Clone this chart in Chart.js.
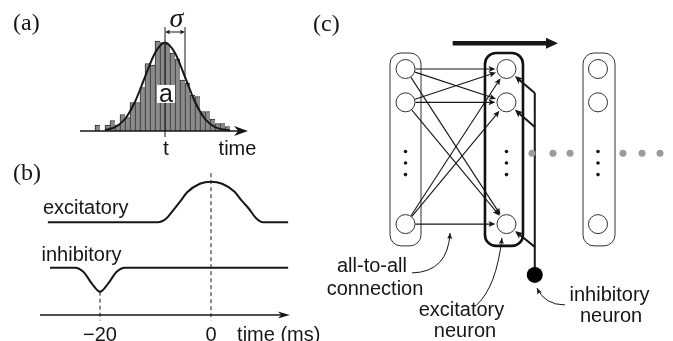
<!DOCTYPE html>
<html>
<head>
<meta charset="utf-8">
<script src="https://cdn.jsdelivr.net/npm/chart.js@4.4.1/dist/chart.umd.min.js"></script>
<style>
  html, body { margin: 0; padding: 0; background: #fff; }
  #wrap { position: relative; width: 673px; height: 341px; overflow: hidden; }
  canvas { position: absolute; }
</style>
</head>
<body>
<div id="wrap">
  <canvas id="ca" width="290" height="160" style="left:0;top:0"></canvas>
  <canvas id="cb" width="325" height="181" style="left:0;top:160px"></canvas>
  <canvas id="cc" width="373" height="341" style="left:300px;top:0"></canvas>
</div>
<script>
// (a) spike times of one group around its mean t (bin units), counts per bin
const binCenters = [-13.5, -12.5, -11.5, -10.5, -9.5, -8.5, -7.5, -6.5, -5.5, -4.5, -3.5, -2.5, -1.5, -0.5,
                    0.5, 1.5, 2.5, 3.5, 4.5, 5.5, 6.5, 7.5, 8.5, 9.5, 10.5, 11.5, 12.5];
const binCounts = [4, 0, 4, 7, 4, 11, 9, 19, 19, 29, 45, 44, 60, 59,
                   58, 52, 48, 34, 32, 24, 23, 13, 13, 8, 5, 5, 3];
const fitX = [-12, -10, -8, -6, -4, -2, 0, 2, 4, 6, 8, 10, 13];
const fitY = [0.7, 2.6, 8, 19.5, 36, 52, 59, 52, 36, 19.5, 8, 2.6, 0.4];
const sigmaWidth = 4;

// (b) postsynaptic kernels, time in ms
const excTime = [-29.4, -9.6, -8, -6.8, -5.5, -4.3, -2, 0, 2, 4.2, 5.5, 6.8, 8, 9.4, 13.9];
const excValue = [0, 0, 0.1, 0.3, 0.52, 0.74, 0.95, 1, 0.95, 0.76, 0.54, 0.34, 0.12, 0, 0];
const inhTime = [-29, -24.5, -23, -21.5, -20, -18.5, -17, -15.5, 13.9];
const inhValue = [0, 0, -0.17, -0.65, -1, -0.65, -0.17, 0, 0];
const timeTicks = [-20, 0];
const timeTickLabels = ['\u221220', '0'];

// (c) network: layers (columns) and neuron rows
const layerX = [0, 1, 1.906];
const neuronRows = [0, 1.01, 4.7];
const ellipsisRows = [2.5, 2.85, 3.2];
const boxX = [0, 0.975, 1.916];
const links = [[0, 0], [0, 1], [0, 2], [1, 0], [1, 1], [1, 2], [2, 0], [2, 1], [2, 2]];
const inhibX = 1.28;
const inhibRow = 6.24;
const branchRows = [0.727, 1.76, 5.39];
const grayDotsX = [1.252, 1.46, 1.629, 2.153, 2.342, 2.52];
const grayDotsRow = 2.55;

const SANS = '"Liberation Sans", Arial, sans-serif';
const SERIF = '"Liberation Serif", "Times New Roman", serif';
const INK = '#161616';

// value v0 sits at pixel p0, k pixels per unit; down = values grow downwards / rightwards
function fitRange(v0, p0, k, len, down) {
  if (down) {
    const min = v0 - p0 / k;
    return { min, max: min + len / k };
  }
  const max = v0 + p0 / k;
  return { min: max - len / k, max };
}

function head(ctx, x0, y0, x1, y1, len, half, notch) {
  const a = Math.atan2(y1 - y0, x1 - x0);
  const c = Math.cos(a), s = Math.sin(a);
  const bx = x1 - c * len, by = y1 - s * len;
  ctx.beginPath();
  ctx.moveTo(x1, y1);
  ctx.lineTo(bx - s * half, by + c * half);
  ctx.lineTo(x1 - c * len * (1 - notch), y1 - s * len * (1 - notch));
  ctx.lineTo(bx + s * half, by - c * half);
  ctx.closePath();
  ctx.fill();
}

function arrow(ctx, x0, y0, x1, y1, len, half, notch) {
  const a = Math.atan2(y1 - y0, x1 - x0);
  const back = len * (1 - notch) * 0.8;
  ctx.beginPath();
  ctx.moveTo(x0, y0);
  ctx.lineTo(x1 - Math.cos(a) * back, y1 - Math.sin(a) * back);
  ctx.stroke();
  head(ctx, x0, y0, x1, y1, len, half, notch);
}

function seg(ctx, x0, y0, x1, y1) {
  ctx.beginPath();
  ctx.moveTo(x0, y0);
  ctx.lineTo(x1, y1);
  ctx.stroke();
}

function text(ctx, str, x, y, font, align) {
  ctx.font = font;
  ctx.textAlign = align || 'center';
  ctx.textBaseline = 'alphabetic';
  ctx.fillText(str, x, y);
}

const baseOptions = {
  responsive: false,
  animation: false,
  events: [],
  layout: { padding: 0, autoPadding: false },
  plugins: { legend: { display: false }, tooltip: { enabled: false } }
};

// ---------- (a) ----------
const rAX = fitRange(0, 165, 5, 290, true);
const rAY = fitRange(0, 131, 1.5, 160, false);

const panelA = {
  id: 'panelA',
  afterDatasetsDraw(chart) {
    const { ctx, scales: { x, y } } = chart;
    const X = v => x.getPixelForValue(v), Y = v => y.getPixelForValue(v);
    ctx.save();
    ctx.strokeStyle = INK;
    ctx.fillStyle = INK;
    ctx.lineWidth = 1.6;
    arrow(ctx, X(-17), Y(0), X(16.6), Y(0), 14, 5, 0.3);

    ctx.lineWidth = 1;
    seg(ctx, X(0), Y(69.3), X(0), Y(-4));
    seg(ctx, X(sigmaWidth), Y(69.3), X(sigmaWidth), Y(35.5));
    const ys = Y(66);
    seg(ctx, X(0) + 2, ys, X(sigmaWidth) - 2, ys);
    head(ctx, X(sigmaWidth), ys, X(0), ys, 5, 2.2, 0.2);
    head(ctx, X(0), ys, X(sigmaWidth), ys, 5, 2.2, 0.2);

    ctx.fillStyle = '#fff';
    ctx.fillRect(X(-1.6), Y(30.7), X(2) - X(-1.6), Y(18.7) - Y(30.7));
    ctx.fillStyle = INK;
    text(ctx, 'a', X(0.2), Y(19.6), '25px ' + SANS);

    text(ctx, '\u03c3', X(2.3), Y(69.5), 'italic 28px ' + SERIF);
    text(ctx, 't', X(0.2), Y(-16), '21px ' + SANS);
    text(ctx, 'time', X(14.5), Y(-16), '20px ' + SANS);
    text(ctx, '(a)', X(-30.4), Y(67.3), '24px ' + SERIF, 'left');
    ctx.restore();
  }
};

new Chart(document.getElementById('ca'), {
  type: 'bar',
  data: {
    datasets: [{
      type: 'line',
      data: fitX.map((v, i) => ({ x: v, y: fitY[i] })),
      borderColor: INK,
      borderWidth: 2,
      pointRadius: 0,
      cubicInterpolationMode: 'monotone',
      order: 0
    }, {
      type: 'bar',
      data: binCenters.map((v, i) => ({ x: v, y: binCounts[i] })),
      backgroundColor: '#8a8a8a',
      borderColor: '#2e2e2e',
      borderWidth: { top: 1, left: 1, right: 0, bottom: 0 },
      barPercentage: 1,
      categoryPercentage: 1,
      order: 1
    }]
  },
  options: {
    ...baseOptions,
    scales: {
      x: { type: 'linear', display: false, offset: false, min: rAX.min, max: rAX.max },
      y: { display: false, min: rAY.min, max: rAY.max }
    }
  },
  plugins: [panelA]
});

// ---------- (b) ----------
const rBX = fitRange(0, 211, 5.55, 325, true);
const rBE = fitRange(0, 62.3, 40.6, 181, false);
const rBI = fitRange(0, 107.7, 24, 181, false);

const panelB = {
  id: 'panelB',
  afterDatasetsDraw(chart) {
    const { ctx, scales: { x, yE, yI } } = chart;
    const X = v => x.getPixelForValue(v);
    ctx.save();
    ctx.strokeStyle = INK;
    ctx.fillStyle = INK;
    ctx.lineWidth = 1.6;
    arrow(ctx, X(-30.8), yI.getPixelForValue(-1.97), X(14.2), yI.getPixelForValue(-1.97), 12, 3.4, 0.3);

    ctx.lineWidth = 1;
    ctx.setLineDash([4, 3]);
    seg(ctx, X(timeTicks[0]), yI.getPixelForValue(-1), X(timeTicks[0]), yI.getPixelForValue(-2.2));
    seg(ctx, X(timeTicks[1]), yE.getPixelForValue(1.21), X(timeTicks[1]), yI.getPixelForValue(-2.2));
    ctx.setLineDash([]);

    const font = '20px ' + SANS;
    timeTicks.forEach((t, i) => text(ctx, timeTickLabels[i], X(t), yI.getPixelForValue(-3.05), font));
    text(ctx, 'time (ms)', X(4.7), yI.getPixelForValue(-3.05), font, 'left');
    text(ctx, 'excitatory', X(-22.56), yE.getPixelForValue(0.205), font);
    text(ctx, 'inhibitory', X(-23.33), yI.getPixelForValue(0.29), font);
    text(ctx, '(b)', X(-35.68), yE.getPixelForValue(1.04), '24px ' + SERIF, 'left');
    ctx.restore();
  }
};

new Chart(document.getElementById('cb'), {
  type: 'line',
  data: {
    datasets: [{
      data: excTime.map((t, i) => ({ x: t, y: excValue[i] })),
      yAxisID: 'yE',
      borderColor: INK,
      borderWidth: 2,
      pointRadius: 0,
      cubicInterpolationMode: 'monotone'
    }, {
      data: inhTime.map((t, i) => ({ x: t, y: inhValue[i] })),
      yAxisID: 'yI',
      borderColor: INK,
      borderWidth: 2,
      pointRadius: 0,
      cubicInterpolationMode: 'monotone'
    }]
  },
  options: {
    ...baseOptions,
    scales: {
      x: { type: 'linear', display: false, offset: false, min: rBX.min, max: rBX.max },
      yE: { type: 'linear', display: false, min: rBE.min, max: rBE.max },
      yI: { type: 'linear', display: false, min: rBI.min, max: rBI.max }
    }
  },
  plugins: [panelB]
});

// ---------- (c) ----------
const rCX = fitRange(0, 105.5, 101, 373, true);
const rCY = fitRange(0, 69, 33, 341, true);

const netStyle = {
  neuronR: 9.5,
  boxHalf: [15.5, 19, 16],
  boxLine: [1, 2.6, 1],
  boxColor: ['#333', '#111', '#333'],
  boxRows: [-0.485, 5.36],
  boxRadius: 11,
  flow: [0.467, 1.51, -0.78],
  pointers: [
    [[0.064, 6.18], [0.421, 6.15], [0.441, 4.97]],
    [[0.705, 7.15], [0.9, 6.6], [0.955, 5.12]],
    [[1.579, 7.15], [1.381, 7.15], [1.302, 6.64]]
  ],
  labels: [
    ['all-to-all', -0.332, 6.15],
    ['connection', -0.302, 6.85],
    ['excitatory', 0.554, 7.48],
    ['neuron', 0.589, 8.12],
    ['inhibitory', 2.02, 7.03],
    ['neuron', 2.035, 7.67]
  ]
};

const panelC = {
  id: 'panelC',
  beforeDatasetsDraw(chart) {
    const { ctx, scales: { x, y } } = chart;
    const X = v => x.getPixelForValue(v), Y = v => y.getPixelForValue(v);
    const R = netStyle.neuronR;
    ctx.save();
    // layer boxes
    boxX.forEach((bx, i) => {
      const h = netStyle.boxHalf[i];
      const top = Y(netStyle.boxRows[0]), bot = Y(netStyle.boxRows[1]);
      ctx.lineWidth = netStyle.boxLine[i];
      ctx.strokeStyle = netStyle.boxColor[i];
      ctx.beginPath();
      ctx.roundRect(X(bx) - h, top, 2 * h, bot - top, netStyle.boxRadius);
      ctx.stroke();
    });
    // all-to-all feedforward links
    ctx.strokeStyle = INK;
    ctx.fillStyle = INK;
    ctx.lineWidth = 1.1;
    links.forEach(([from, to]) => {
      const px = X(layerX[0]), py = Y(neuronRows[from]);
      const qx = X(layerX[1]), qy = Y(neuronRows[to]);
      const d = Math.hypot(qx - px, qy - py), ux = (qx - px) / d, uy = (qy - py) / d;
      arrow(ctx, px + ux * (R + 0.5), py + uy * (R + 0.5), qx - ux * (R + 1.5), qy - uy * (R + 1.5), 7, 3, 0.25);
    });
    // inhibitory feedback bus
    ctx.lineWidth = 2;
    seg(ctx, X(inhibX), Y(branchRows[0]), X(inhibX), Y(inhibRow));
    branchRows.forEach((row, k) => {
      const px = X(inhibX), py = Y(row);
      const qx = X(layerX[1]), qy = Y(neuronRows[k]);
      const d = Math.hypot(qx - px, qy - py), ux = (qx - px) / d, uy = (qy - py) / d;
      arrow(ctx, px, py, qx - ux * (R + 1.5), qy - uy * (R + 1.5), 8, 3.5, 0.25);
    });
    ctx.restore();
  },
  afterDatasetsDraw(chart) {
    const { ctx, scales: { x, y } } = chart;
    const X = v => x.getPixelForValue(v), Y = v => y.getPixelForValue(v);
    ctx.save();
    ctx.strokeStyle = INK;
    ctx.fillStyle = INK;
    const f = netStyle.flow;
    ctx.lineWidth = 4.5;
    arrow(ctx, X(f[0]), Y(f[2]), X(f[1]), Y(f[2]), 12, 5.5, 0);

    ctx.lineWidth = 1;
    netStyle.pointers.forEach(([p0, c, p1]) => {
      ctx.beginPath();
      ctx.moveTo(X(p0[0]), Y(p0[1]));
      ctx.quadraticCurveTo(X(c[0]), Y(c[1]), X(p1[0]), Y(p1[1]));
      ctx.stroke();
      head(ctx, X(c[0]), Y(c[1]), X(p1[0]), Y(p1[1]), 6, 2.5, 0.2);
    });

    netStyle.labels.forEach(([s, lx, ly]) => text(ctx, s, X(lx), Y(ly), '20px ' + SANS));
    text(ctx, '(c)', X(-0.916), Y(-1.15), '24px ' + SERIF, 'left');
    ctx.restore();
  }
};

const neuronPoints = [];
layerX.forEach(lx => neuronRows.forEach(r => neuronPoints.push({ x: lx, y: r })));
const ellipsisPoints = [];
layerX.forEach(lx => ellipsisRows.forEach(r => ellipsisPoints.push({ x: lx, y: r })));

new Chart(document.getElementById('cc'), {
  type: 'scatter',
  data: {
    datasets: [{
      data: neuronPoints,
      pointRadius: netStyle.neuronR,
      backgroundColor: '#fff',
      borderColor: '#333',
      borderWidth: 1
    }, {
      data: [{ x: inhibX, y: inhibRow }],
      pointRadius: 8,
      backgroundColor: '#000',
      borderWidth: 0
    }, {
      data: ellipsisPoints,
      pointRadius: 1.8,
      backgroundColor: INK,
      borderWidth: 0
    }, {
      data: grayDotsX.map(v => ({ x: v, y: grayDotsRow })),
      pointRadius: 3.5,
      backgroundColor: '#9b9b9b',
      borderWidth: 0
    }]
  },
  options: {
    ...baseOptions,
    scales: {
      x: { type: 'linear', display: false, min: rCX.min, max: rCX.max },
      y: { type: 'linear', display: false, reverse: true, min: rCY.min, max: rCY.max }
    }
  },
  plugins: [panelC]
});
</script>
</body>
</html>
